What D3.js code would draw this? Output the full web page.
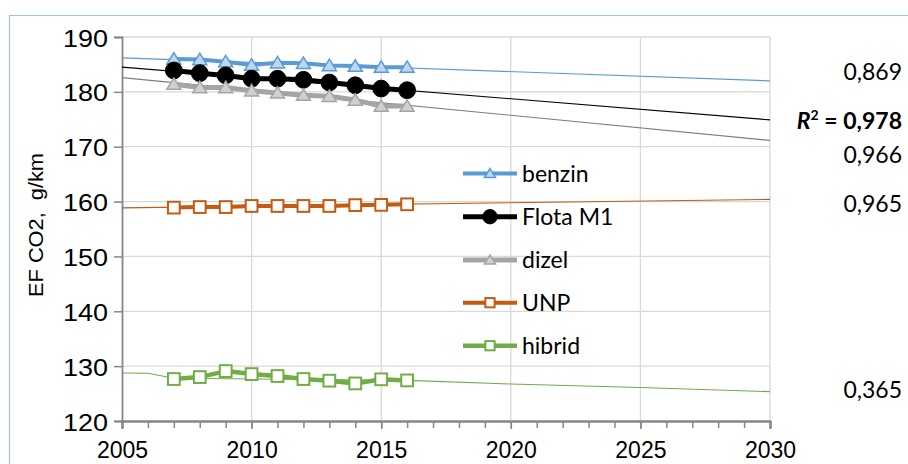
<!DOCTYPE html>
<html><head><meta charset="utf-8">
<script src="https://cdn.jsdelivr.net/npm/d3@7"></script>
<style>
body{margin:0;background:#fff;}
svg{display:block;}
</style></head>
<body>
<svg id="c" width="908" height="464"></svg>
<script>
// ---- data ----
const years = [2007,2008,2009,2010,2011,2012,2013,2014,2015,2016];
const benzin = [186.0,185.9,185.5,184.9,185.3,185.2,184.8,184.7,184.5,184.5];
const flotaM1 = [183.9,183.4,183.0,182.4,182.4,182.2,181.7,181.2,180.6,180.3];
const dizel = [181.4,180.8,180.8,180.2,179.8,179.4,179.2,178.5,177.4,177.4];
const unp = [158.9,159.0,159.0,159.2,159.2,159.2,159.2,159.35,159.4,159.5];
const hibrid = [127.65,128.0,129.1,128.55,128.2,127.65,127.35,126.85,127.6,127.4];

const trendYears = [2005,2030];
const benzinTrend = [186.2,182.0];
const flotaTrend = [184.5,174.9];
const dizelTrend = [182.6,171.15];
const unpTrend = [158.85,160.4];
const hibridTrendYears = [2005,2006,2007,2016,2020,2025,2030];
const hibridTrend = [128.75,128.7,127.8,127.4,126.75,126.1,125.35];

const xTicks = [2005,2010,2015,2020,2025,2030];
const yTicks = [120,130,140,150,160,170,180,190];
const r2Labels = ["0,869","0,978","0,966","0,965","0,365"];
const legendNames = ["benzin","Flota M1","dizel","UNP","hibrid"];

// ---- layout ----
const svg = d3.select("#c");
const x = d3.scaleLinear().domain([2005,2030]).range([122,770]);
const y = d3.scaleLinear().domain([120,190]).range([421,37]);

// outer border
svg.append("path").attr("d","M9.5,470 V15.5 H920").attr("fill","none").attr("stroke","#9DC3E6").attr("stroke-width",1.2);

// gridlines
const grid = svg.append("g");
grid.selectAll("line.h").data(yTicks.slice(1)).join("line")
  .attr("x1",x(2005)).attr("x2",x(2030)).attr("y1",d=>y(d)).attr("y2",d=>y(d))
  .attr("stroke","#D9D9D9").attr("stroke-width",1.3);
grid.selectAll("line.v").data(xTicks.slice(1)).join("line")
  .attr("y1",y(120)).attr("y2",y(190)).attr("x1",d=>x(d)).attr("x2",d=>x(d))
  .attr("stroke","#D9D9D9").attr("stroke-width",1.3);

// axes
const axisColor = "#868686";
const yAxis = svg.append("g").attr("transform",`translate(${x(2005)},0)`)
  .call(d3.axisLeft(y).tickValues(yTicks).tickSize(8).tickPadding(6).tickFormat(d3.format("d")));
const xMinor = svg.append("g").attr("transform",`translate(0,${y(120)})`)
  .call(d3.axisBottom(x).tickValues(d3.range(2005,2031)).tickSize(7).tickFormat(""));
const xAxis = svg.append("g").attr("transform",`translate(0,${y(120)})`)
  .call(d3.axisBottom(x).tickValues(xTicks).tickSize(8).tickPadding(13).tickFormat(d3.format("d")));
[yAxis,xAxis,xMinor].forEach(g=>{
  g.select(".domain").attr("stroke",axisColor).attr("stroke-width",1.8);
  g.selectAll(".tick line").attr("stroke",axisColor).attr("stroke-width",1.5);
  g.selectAll("text").attr("fill","#000").style("font-family","'Liberation Sans',Arial,sans-serif").style("font-size","23px");
});
xAxis.selectAll("text").attr("dy","0.71em");
yAxis.selectAll("text").attr("dy","0.37em").style("font-size","24.5px")
  .attr("textLength",45).attr("lengthAdjust","spacingAndGlyphs");

// y label
svg.append("text").attr("transform","translate(43,225) rotate(-90)")
  .attr("text-anchor","middle").style("font-family","'Liberation Sans',Arial,sans-serif")
  .style("font-size","20px").style("white-space","pre")
  .attr("textLength",144).attr("lengthAdjust","spacingAndGlyphs").text("EF CO2,  g/km");

// trend lines
const tl = d3.line().x(d=>x(d[0])).y(d=>y(d[1]));
const trends = [
  {yrs:trendYears, v:benzinTrend, c:"#5B9BD5"},
  {yrs:trendYears, v:flotaTrend, c:"#000000"},
  {yrs:trendYears, v:dizelTrend, c:"#7F7F7F"},
  {yrs:trendYears, v:unpTrend, c:"#C55A11"},
  {yrs:hibridTrendYears, v:hibridTrend, c:"#70AD47"}
];
trends.forEach(t=>{
  svg.append("path").attr("d",tl(t.yrs.map((yr,i)=>[yr,t.v[i]])))
    .attr("fill","none").attr("stroke",t.c).attr("stroke-width",1.1);
});

// series
const series = [
  {name:legendNames[0], v:benzin, c:"#5B9BD5", fill:"#BDD7EE", sym:"tri", lw:4},
  {name:legendNames[1], v:flotaM1, c:"#000000", fill:"#000000", sym:"circ", lw:5},
  {name:legendNames[2], v:dizel, c:"#A5A5A5", fill:"#D0D0D0", sym:"tri", lw:5},
  {name:legendNames[3], v:unp, c:"#C55A11", fill:"#FFFFFF", sym:"sq", lw:4},
  {name:legendNames[4], v:hibrid, c:"#70AD47", fill:"#FFFFFF", sym:"sq", lw:4.5}
];
const line = d3.line().x(d=>x(d[0])).y(d=>y(d[1]));
function marker(g, sym, cx, cy, s, c, fill){
  if(sym==="circ"){
    g.append("circle").attr("cx",cx).attr("cy",cy).attr("r",s*0.6).attr("fill",fill).attr("stroke",c).attr("stroke-width",1);
  } else if(sym==="tri"){
    const h = s*0.82, w = s*0.5;
    g.append("path").attr("d",`M${cx},${cy-h*0.55} L${cx+w},${cy+h*0.45} L${cx-w},${cy+h*0.45} Z`)
      .attr("fill",fill).attr("stroke",c).attr("stroke-width",1.5);
  } else {
    const hs = s*0.42;
    g.append("rect").attr("x",cx-hs).attr("y",cy-hs).attr("width",2*hs).attr("height",2*hs)
      .attr("fill",fill).attr("stroke",c).attr("stroke-width",2);
  }
}
series.forEach(s=>{
  const pts = years.map((yr,i)=>[yr,s.v[i]]);
  svg.append("path").attr("d",line(pts)).attr("fill","none").attr("stroke",s.c)
    .attr("stroke-width",s.lw).attr("stroke-linejoin","round");
  const g = svg.append("g");
  pts.forEach(p=>marker(g, s.sym, x(p[0]), y(p[1]), 14, s.c, s.fill));
});

// legend
const legY = [173.5,216.7,260,302.7,345.7];
series.forEach((s,i)=>{
  const g = svg.append("g");
  g.append("line").attr("x1",463).attr("x2",517).attr("y1",legY[i]).attr("y2",legY[i])
    .attr("stroke",s.c).attr("stroke-width",s.lw);
  marker(g, s.sym, 490, legY[i], s.sym==="circ"?12:11, s.c, s.fill);
  g.append("text").attr("x",522).attr("y",legY[i]+8).style("font-family","Lato,'Open Sans',sans-serif")
    .style("font-size","23px").text(s.name);
});

// R^2 labels
const r2Y = [79.5,129,163,211.5,398];
r2Labels.forEach((t,i)=>{
  const tx = svg.append("text").attr("x",902).attr("y",r2Y[i]).attr("text-anchor","end")
    .style("font-family","Lato,'Open Sans',sans-serif").style("font-size","23px");
  if(i===1){
    tx.style("font-weight","bold");
    tx.append("tspan").style("font-style","italic").text("R");
    tx.append("tspan").attr("dy",-9).style("font-size","14px").text("2");
    tx.append("tspan").attr("dy",9).text(" = " + t);
  } else tx.text(t);
});
</script>
</body></html>
